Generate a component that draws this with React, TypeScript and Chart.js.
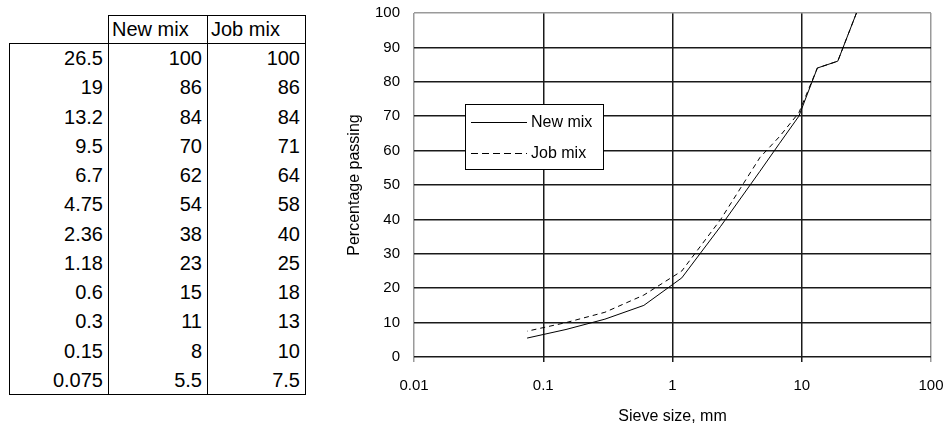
import React, { useEffect, useRef } from "react";
import { Chart, registerables } from "chart.js";

Chart.register(...registerables);

// ---- data ----
const sieveSizes = [26.5, 19, 13.2, 9.5, 6.7, 4.75, 2.36, 1.18, 0.6, 0.3, 0.15, 0.075];
const sieveLabels = ["26.5", "19", "13.2", "9.5", "6.7", "4.75", "2.36", "1.18", "0.6", "0.3", "0.15", "0.075"];
const newMix = [100, 86, 84, 70, 62, 54, 38, 23, 15, 11, 8, 5.5];
const jobMix = [100, 86, 84, 71, 64, 58, 40, 25, 18, 13, 10, 7.5];
const seriesNames = ["New mix", "Job mix"];
const xTicks = [0.01, 0.1, 1, 10, 100];
const xTickLabels = ["0.01", "0.1", "1", "10", "100"];
const yTicks = [0, 10, 20, 30, 40, 50, 60, 70, 80, 90, 100];
const xTitle = "Sieve size, mm";
const yTitle = "Percentage passing";

const FONT = "'Liberation Sans', Arial, sans-serif";

const boxLegend = {
  id: "boxLegend",
  afterDraw(chart: any, _args: any, opts: any) {
    const { ctx, chartArea } = chart;
    const x = Math.round(chartArea.left + opts.offsetX);
    const y = Math.round(chartArea.top + opts.offsetY);
    ctx.save();
    ctx.fillStyle = "#fff";
    ctx.fillRect(x, y, opts.width, opts.height);
    ctx.strokeStyle = "#000";
    ctx.lineWidth = 1;
    ctx.strokeRect(x + 0.5, y + 0.5, opts.width, opts.height);
    chart.data.datasets.forEach((ds: any, i: number) => {
      const ly = Math.round(y + opts.firstRow + i * opts.rowGap) + 0.5;
      ctx.strokeStyle = ds.borderColor;
      ctx.lineWidth = 1;
      ctx.setLineDash(opts.dashes[i] || []);
      ctx.beginPath();
      ctx.moveTo(x + 6, ly);
      ctx.lineTo(x + 62, ly);
      ctx.stroke();
      ctx.setLineDash([]);
      ctx.fillStyle = "#000";
      ctx.font = `16px ${FONT}`;
      ctx.textBaseline = "middle";
      ctx.textAlign = "left";
      ctx.fillText(ds.label, x + 66, ly);
    });
    ctx.restore();
  },
};

function GradingChart() {
  const ref = useRef<HTMLCanvasElement | null>(null);
  useEffect(() => {
    if (!ref.current) return;
    const gridColor = (edge: boolean) => (edge ? "#9a9a9a" : "#1a1a1a");
    const chart = new Chart(ref.current, {
      type: "line",
      data: {
        datasets: [
          {
            label: seriesNames[0],
            data: sieveSizes.map((s, i) => ({ x: s, y: newMix[i] })),
            borderColor: "#000",
            borderWidth: 1,
            pointRadius: 0,
            fill: false,
          },
          {
            label: seriesNames[1],
            data: sieveSizes.map((s, i) => ({ x: s, y: jobMix[i] })),
            borderColor: "#000",
            borderWidth: 1,
            borderDash: [5, 4],
            pointRadius: 0,
            fill: false,
          },
        ],
      },
      options: {
        animation: false,
        responsive: false,
        layout: { padding: { top: 13, right: 13, left: 0, bottom: 0 } },
        elements: { line: { tension: 0 } },
        plugins: {
          legend: { display: false },
          tooltip: { enabled: false },
          boxLegend: {
            offsetX: 51,
            offsetY: 91,
            width: 138,
            height: 65,
            firstRow: 18,
            rowGap: 31,
            dashes: [[], [7, 4]],
          },
        } as any,
        scales: {
          x: {
            type: "logarithmic",
            min: xTicks[0],
            max: xTicks[xTicks.length - 1],
            afterBuildTicks: (s: any) => {
              s.ticks = xTicks.map((v) => ({ value: v }));
            },
            afterFit: (s: any) => {
              s.height = 70;
              s.paddingLeft = 0;
              s.paddingRight = 0;
            },
            ticks: {
              autoSkip: false,
              maxRotation: 0,
              padding: 15,
              color: "#000",
              font: { family: FONT, size: 15 },
              callback: (v: any) => {
                const i = xTicks.indexOf(Number(v));
                return i >= 0 ? xTickLabels[i] : "";
              },
            },
            grid: {
              drawTicks: true,
              tickLength: 5,
              lineWidth: 1.5,
              color: (c: any) =>
                gridColor(c.tick && (c.tick.value === xTicks[0] || c.tick.value === xTicks[xTicks.length - 1])),
            },
            border: { display: false },
            title: {
              display: true,
              text: xTitle,
              color: "#000",
              font: { family: FONT, size: 16 },
              padding: { top: 0, bottom: 1 },
            },
          },
          y: {
            min: yTicks[0],
            max: yTicks[yTicks.length - 1],
            afterBuildTicks: (s: any) => {
              s.ticks = yTicks.map((v) => ({ value: v }));
            },
            afterFit: (s: any) => {
              s.width = 84;
              s.paddingTop = 0;
              s.paddingBottom = 0;
            },
            ticks: {
              padding: 14,
              color: "#000",
              font: { family: FONT, size: 15 },
            },
            grid: {
              drawTicks: false,
              lineWidth: 1.5,
              color: (c: any) => gridColor(c.tick && c.tick.value === yTicks[yTicks.length - 1]),
            },
            border: { display: false },
            title: {
              display: true,
              text: yTitle,
              color: "#000",
              font: { family: FONT, size: 16 },
              padding: { top: 15, bottom: 0 },
            },
          },
        },
      },
      plugins: [boxLegend],
    } as any);
    return () => chart.destroy();
  }, []);
  return <canvas ref={ref} width={614} height={427} style={{ position: "absolute", left: 330, top: 0 }} />;
}

function DataTable() {
  const rowH = 29.25;
  const bodyTop = 43;
  const cols = [
    { left: 9, width: 99 },
    { left: 108, width: 99 },
    { left: 207, width: 99 },
  ];
  const cellText = (r: number, c: number) =>
    c === 0 ? sieveLabels[r] : c === 1 ? String(newMix[r]) : String(jobMix[r]);
  const base: React.CSSProperties = {
    position: "absolute",
    fontFamily: FONT,
    fontSize: 20,
    color: "#000",
    whiteSpace: "nowrap",
    boxSizing: "border-box",
  };
  return (
    <>
      {/* header */}
      <div style={{ ...base, left: 108, top: 15, width: 198, height: 29, border: "1px solid #000" }} />
      <div style={{ ...base, left: 207, top: 15, width: 1, height: 29, background: "#000" }} />
      {seriesNames.map((n, i) => (
        <div
          key={n}
          style={{ ...base, left: cols[i + 1].left + 4, top: 15, height: 29, lineHeight: "29px" }}
        >
          {n}
        </div>
      ))}
      {/* body */}
      <div style={{ ...base, left: 9, top: bodyTop, width: 297, height: 352, border: "1px solid #000" }} />
      <div style={{ ...base, left: 108, top: bodyTop, width: 1, height: 352, background: "#000" }} />
      <div style={{ ...base, left: 207, top: bodyTop, width: 1, height: 352, background: "#000" }} />
      {sieveLabels.map((_, r) =>
        cols.map((col, c) => (
          <div
            key={`${r}-${c}`}
            style={{
              ...base,
              left: col.left,
              top: bodyTop + 1 + r * rowH,
              width: col.width - (c === 2 ? 1 : 0),
              height: rowH,
              lineHeight: `${rowH}px`,
              textAlign: "right",
              paddingRight: 5,
            }}
          >
            {cellText(r, c)}
          </div>
        ))
      )}
    </>
  );
}

export default function App() {
  return (
    <div
      style={{
        position: "fixed",
        left: 0,
        top: 0,
        width: 944,
        height: 427,
        background: "#fff",
        overflow: "hidden",
      }}
    >
      <DataTable />
      <GradingChart />
    </div>
  );
}
